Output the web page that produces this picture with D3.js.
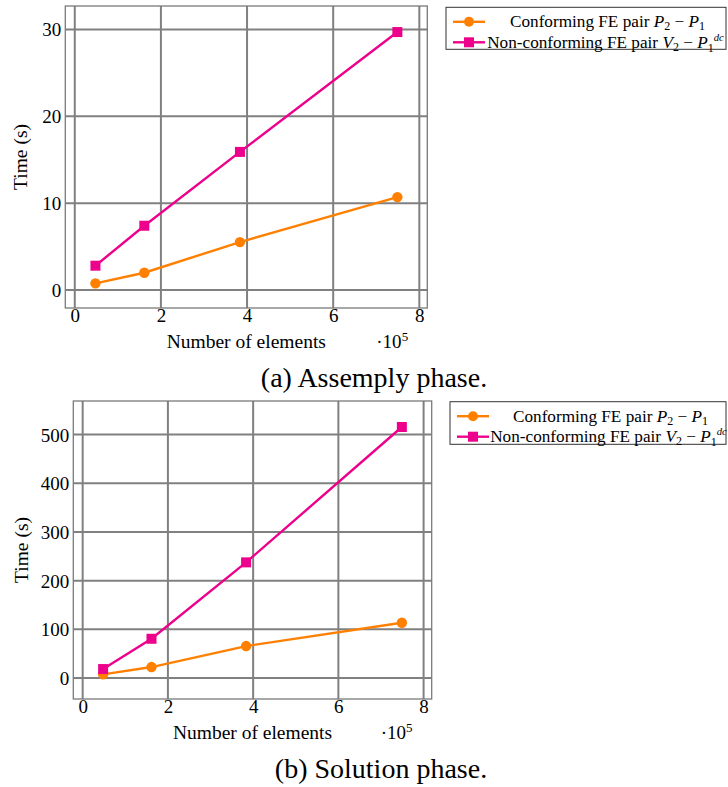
<!DOCTYPE html>
<html>
<head>
<meta charset="utf-8">
<script src="https://cdn.jsdelivr.net/npm/d3@7"></script>
<style>
  html, body { margin: 0; padding: 0; background: #fff; }
  svg { display: block; }
  text { font-family: "Liberation Serif", "Times New Roman", serif; fill: #000; }
</style>
</head>
<body>
<svg id="chart" width="728" height="787"></svg>
<script>
// ---------------- data ----------------
const elements = [0.48, 1.615, 3.835, 7.49];           // ×10^5
const assemblyConforming = [0.77, 1.99, 5.52, 10.7];
const assemblyNonConforming = [2.8, 7.4, 15.9, 29.7];
const solutionConforming = [7.6, 22.6, 65.7, 113.6];
const solutionNonConforming = [18.5, 80.7, 237.6, 515.6];
const xTicks = [0, 2, 4, 6, 8];
const assemblyYTicks = [0, 10, 20, 30];
const solutionYTicks = [0, 100, 200, 300, 400, 500];
const seriesNames = ["Conforming", "Non-conforming"];
const captions = ["(a) Assemply phase.", "(b) Solution phase."];

const ORANGE = "#FF8000";
const MAGENTA = "#EC008C";
const GRID = "#808080";

const svg = d3.select("#chart");

function panel(cfg) {
  const g = svg.append("g");
  const x = d3.scaleLinear().domain(cfg.xDomain).range([cfg.left, cfg.right]);
  const y = d3.scaleLinear().domain(cfg.yDomain).range([cfg.bottom, cfg.top]);

  // grid
  g.append("g").selectAll("line").data(cfg.xTicks).join("line")
    .attr("x1", d => x(d)).attr("x2", d => x(d))
    .attr("y1", cfg.top).attr("y2", cfg.bottom)
    .attr("stroke", GRID).attr("stroke-width", 2);
  g.append("g").selectAll("line").data(cfg.yTicks).join("line")
    .attr("y1", d => y(d)).attr("y2", d => y(d))
    .attr("x1", cfg.left).attr("x2", cfg.right)
    .attr("stroke", GRID).attr("stroke-width", 2);

  // frame
  g.append("rect").attr("x", cfg.left).attr("y", cfg.top)
    .attr("width", cfg.right - cfg.left).attr("height", cfg.bottom - cfg.top)
    .attr("fill", "none").attr("stroke", "#7a7a7a").attr("stroke-width", 1.3);

  // axes (tick labels via d3 axes)
  const xAxis = d3.axisBottom(x).tickValues(cfg.xTicks).tickSize(0).tickPadding(0).tickFormat(d3.format("d"));
  const xa = g.append("g").attr("transform", `translate(0,${cfg.bottom})`).call(xAxis);
  xa.select(".domain").remove();
  xa.selectAll("text").attr("dy", null).attr("y", 14).attr("font-size", 19)
    .attr("font-family", "Liberation Serif").attr("fill", "#000");

  const yAxis = d3.axisLeft(y).tickValues(cfg.yTicks).tickSize(0).tickPadding(4).tickFormat(d3.format("d"));
  const ya = g.append("g").attr("transform", `translate(${cfg.left},0)`).call(yAxis);
  ya.select(".domain").remove();
  ya.selectAll("text").attr("dy", "0.34em").attr("font-size", 19)
    .attr("font-family", "Liberation Serif").attr("fill", "#000");

  // axis labels
  g.append("text").attr("x", (cfg.left + cfg.right) / 2).attr("y", cfg.bottom + 40)
    .attr("text-anchor", "middle").attr("font-size", 19.5).text("Number of elements");
  const sc = g.append("text").attr("x", cfg.right - 51).attr("y", cfg.bottom + 40).attr("font-size", 19);
  sc.append("tspan").text("·10");
  sc.append("tspan").attr("font-size", 13).attr("dy", -7).text("5");

  g.append("text")
    .attr("transform", `translate(${cfg.yLabelX},${(cfg.top + cfg.bottom) / 2}) rotate(-90)`)
    .attr("text-anchor", "middle").attr("dy", "0.35em").attr("font-size", 19.5).text("Time (s)");

  // series
  const line = d3.line().x((d, i) => x(elements[i])).y(d => y(d));
  const s1 = cfg.series[0], s2 = cfg.series[1];
  g.append("path").attr("d", line(s1)).attr("fill", "none").attr("stroke", ORANGE).attr("stroke-width", 2.4);
  g.append("g").selectAll("circle").data(s1).join("circle")
    .attr("cx", (d, i) => x(elements[i])).attr("cy", d => y(d)).attr("r", 5.2).attr("fill", ORANGE);
  g.append("path").attr("d", line(s2)).attr("fill", "none").attr("stroke", MAGENTA).attr("stroke-width", 2.4);
  g.append("g").selectAll("rect").data(s2).join("rect")
    .attr("x", (d, i) => x(elements[i]) - 5).attr("y", d => y(d) - 5)
    .attr("width", 10).attr("height", 10).attr("fill", MAGENTA);

  // legend
  const L = cfg.legend;
  const lg = g.append("g");
  lg.append("rect").attr("x", L.x0).attr("y", L.y0).attr("width", L.x1 - L.x0).attr("height", L.y1 - L.y0)
    .attr("fill", "#fff").attr("stroke", "#333").attr("stroke-width", 1);
  const rows = [L.y0 + 14.5, L.y0 + 35];
  lg.append("line").attr("x1", L.x0 + 7).attr("x2", L.x0 + 39).attr("y1", rows[0]).attr("y2", rows[0])
    .attr("stroke", ORANGE).attr("stroke-width", 2.4);
  lg.append("circle").attr("cx", L.x0 + 23).attr("cy", rows[0]).attr("r", 5).attr("fill", ORANGE);
  lg.append("line").attr("x1", L.x0 + 7).attr("x2", L.x0 + 39).attr("y1", rows[1]).attr("y2", rows[1])
    .attr("stroke", MAGENTA).attr("stroke-width", 2.4);
  lg.append("rect").attr("x", L.x0 + 18).attr("y", rows[1] - 5).attr("width", 10).attr("height", 10).attr("fill", MAGENTA);

  const fs = 17.2;
  const t1 = lg.append("text").attr("x", L.textCenter).attr("y", rows[0]).attr("dy", "0.33em")
    .attr("text-anchor", "middle").attr("font-size", fs);
  t1.append("tspan").text(seriesNames[0] + " FE pair ");
  t1.append("tspan").attr("font-style", "italic").text("P");
  t1.append("tspan").attr("font-size", fs * 0.7).attr("dy", 3).text("2");
  t1.append("tspan").attr("dy", -3).text(" − ");
  t1.append("tspan").attr("font-style", "italic").text("P");
  t1.append("tspan").attr("font-size", fs * 0.7).attr("dy", 3).text("1");

  const t2 = lg.append("text").attr("x", L.textCenter - 2).attr("y", rows[1]).attr("dy", "0.33em")
    .attr("text-anchor", "middle").attr("font-size", fs);
  t2.append("tspan").text(seriesNames[1] + " FE pair ");
  t2.append("tspan").attr("font-style", "italic").text("V");
  t2.append("tspan").attr("font-size", fs * 0.7).attr("dy", 3).text("2");
  t2.append("tspan").attr("dy", -3).text(" − ");
  t2.append("tspan").attr("font-style", "italic").text("P");
  t2.append("tspan").attr("font-size", fs * 0.7).attr("dy", 4).text("1");
  t2.append("tspan").attr("font-size", fs * 0.62).attr("font-style", "italic").attr("dy", -11).text("dc");

  // caption
  svg.append("text").attr("x", cfg.captionX).attr("y", cfg.captionY).attr("text-anchor", "middle")
    .attr("font-size", 28).text(cfg.caption);
}

panel({
  xDomain: [-0.22, 8.185], yDomain: [-2.07, 32.7],
  left: 65.3, right: 427.3, top: 6, bottom: 308,
  xTicks: xTicks, yTicks: assemblyYTicks,
  series: [assemblyConforming, assemblyNonConforming],
  yLabelX: 20,
  legend: { x0: 446, x1: 726, y0: 7.3, y1: 49.3, textCenter: 607.5 },
  caption: captions[0], captionX: 374, captionY: 387
});

panel({
  xDomain: [-0.22, 8.19], yDomain: [-43, 569],
  left: 73.3, right: 431.7, top: 401, bottom: 699,
  xTicks: xTicks, yTicks: solutionYTicks,
  series: [solutionConforming, solutionNonConforming],
  yLabelX: 20.7,
  legend: { x0: 450, x1: 726, y0: 401.7, y1: 444.3, textCenter: 610.5 },
  caption: captions[1], captionX: 381, captionY: 778
});
</script>
</body>
</html>
